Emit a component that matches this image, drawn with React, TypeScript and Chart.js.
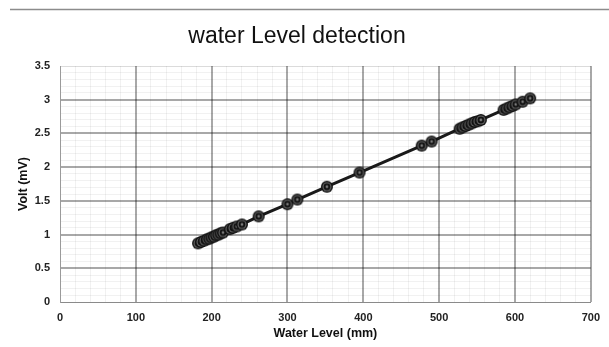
import { useEffect, useRef } from 'react';
import { Chart, registerables } from 'chart.js';

Chart.register(...registerables);

const waterLevel = [
  182, 186, 190, 194, 197, 200, 203, 206, 209, 212, 215,
  224, 228, 233, 240, 262, 300, 313, 352, 395, 477, 490,
  527, 531, 535, 539, 543, 547, 551, 555,
  585, 589, 593, 597, 601, 610, 620,
];
const volt = [
  0.87, 0.89, 0.91, 0.93, 0.94, 0.96, 0.97, 0.99, 1.0, 1.02, 1.03,
  1.08, 1.1, 1.12, 1.15, 1.27, 1.45, 1.52, 1.71, 1.92, 2.32, 2.38,
  2.57, 2.59, 2.61, 2.63, 2.65, 2.67, 2.68, 2.7,
  2.85, 2.87, 2.89, 2.91, 2.93, 2.97, 3.02,
];
const xTickLabels = ['0', '100', '200', '300', '400', '500', '600', '700'];
const yTickLabels = ['0', '0.5', '1', '1.5', '2', '2.5', '3', '3.5'];

const FONT = "'Liberation Sans', Arial, sans-serif";
const MINOR = 'rgba(0,0,0,0.055)';
const MAJOR = 'rgba(0,0,0,0.34)';

function makeMarker(): HTMLCanvasElement {
  const c = document.createElement('canvas');
  c.width = 14;
  c.height = 14;
  const g = c.getContext('2d')!;
  const ring = (r: number, col: string) => {
    g.beginPath();
    g.arc(7, 7, r, 0, Math.PI * 2);
    g.fillStyle = col;
    g.fill();
  };
  ring(6, '#111111');
  ring(4.5, '#6a6a6a');
  ring(3.4, '#111111');
  ring(1.4, '#7a7a7a');
  return c;
}

const topRule = {
  id: 'topRule',
  beforeDraw(chart: any) {
    const { ctx } = chart;
    ctx.save();
    ctx.strokeStyle = '#8c8c8c';
    ctx.lineWidth = 1.5;
    ctx.beginPath();
    ctx.moveTo(10, 9.5);
    ctx.lineTo(chart.width, 9.5);
    ctx.stroke();
    ctx.restore();
  },
};

export default function App() {
  const ref = useRef<HTMLCanvasElement>(null);

  useEffect(() => {
    document.body.style.margin = '0';
    const marker = makeMarker();
    const data = waterLevel.map((x, i) => ({ x, y: volt[i] }));
    const chart = new Chart(ref.current!, {
      type: 'scatter',
      data: {
        datasets: [
          {
            label: 'Volt',
            data,
            showLine: true,
            borderColor: '#1a1a1a',
            borderWidth: 3,
            pointStyle: marker as any,
            pointRadius: 6,
          },
        ],
      },
      plugins: [topRule],
      options: {
        responsive: false,
        animation: false,
        layout: { padding: { top: 0, left: 0, right: 15, bottom: 0 } },
        plugins: {
          legend: { display: false },
          tooltip: { enabled: false },
          title: {
            display: true,
            text: 'water Level detection',
            color: '#111111',
            font: { family: FONT, size: 23, weight: 'normal' },
            padding: { top: 23.2, bottom: 15.2 },
          },
        },
        scales: {
          x: {
            type: 'linear',
            min: 0,
            max: 700,
            afterFit: (s: any) => {
              s.height = 45;
            },
            ticks: {
              stepSize: 20,
              autoSkip: false,
              maxRotation: 0,
              minRotation: 0,
              padding: 9,
              color: '#222222',
              font: { family: FONT, size: 11, weight: 'bold' },
              callback: (v: any) => {
                const s = String(Math.round(v));
                return Math.round(v) % 100 === 0 && xTickLabels.includes(s) ? s : '';
              },
            },
            grid: {
              drawTicks: false,
              color: (c: any) => {
                const v = Math.round(c.tick?.value ?? 0);
                if (v === 0) return '#9a9a9a';
                return v % 100 === 0 ? MAJOR : MINOR;
              },
              lineWidth: (c: any) => {
                const v = Math.round(c.tick?.value ?? 0);
                if (v === 0) return 1;
                return v % 100 === 0 ? 2 : 1;
              },
            },
            border: { display: true, color: '#8a8a8a', width: 1 },
            title: {
              display: true,
              text: 'Water Level (mm)',
              color: '#111111',
              font: { family: FONT, size: 12.5, weight: 'bold' },
              padding: { top: 0, bottom: 5.5 },
            },
          },
          y: {
            type: 'linear',
            min: 0,
            max: 3.5,
            afterFit: (s: any) => {
              s.width = 60;
            },
            ticks: {
              stepSize: 0.1,
              maxTicksLimit: 100,
              autoSkip: false,
              padding: 10,
              color: '#222222',
              font: { family: FONT, size: 11, weight: 'bold' },
              callback: (v: any) => {
                const t = Math.round(v * 10);
                if (t % 5 !== 0) return '';
                const s = String(t / 10);
                return yTickLabels.includes(s) ? s : '';
              },
            },
            grid: {
              drawTicks: false,
              color: (c: any) => {
                const t = Math.round((c.tick?.value ?? 0) * 10);
                if (t === 0) return '#8a8a8a';
                if (t === 35) return 'rgba(0,0,0,0.14)';
                return t % 5 === 0 ? MAJOR : MINOR;
              },
              lineWidth: (c: any) => {
                const t = Math.round((c.tick?.value ?? 0) * 10);
                if (t === 0 || t === 35) return 1;
                return t % 5 === 0 ? 2 : 1;
              },
            },
            border: { display: true, color: '#9a9a9a', width: 1 },
            title: {
              display: true,
              text: 'Volt (mV)',
              color: '#111111',
              font: { family: FONT, size: 12.5, weight: 'bold' },
              padding: { top: 16, bottom: 0 },
            },
          },
        },
      },
    });
    return () => chart.destroy();
  }, []);

  return (
    <div style={{ width: 609, height: 347 }}>
      <canvas ref={ref} width={609} height={347} />
    </div>
  );
}
